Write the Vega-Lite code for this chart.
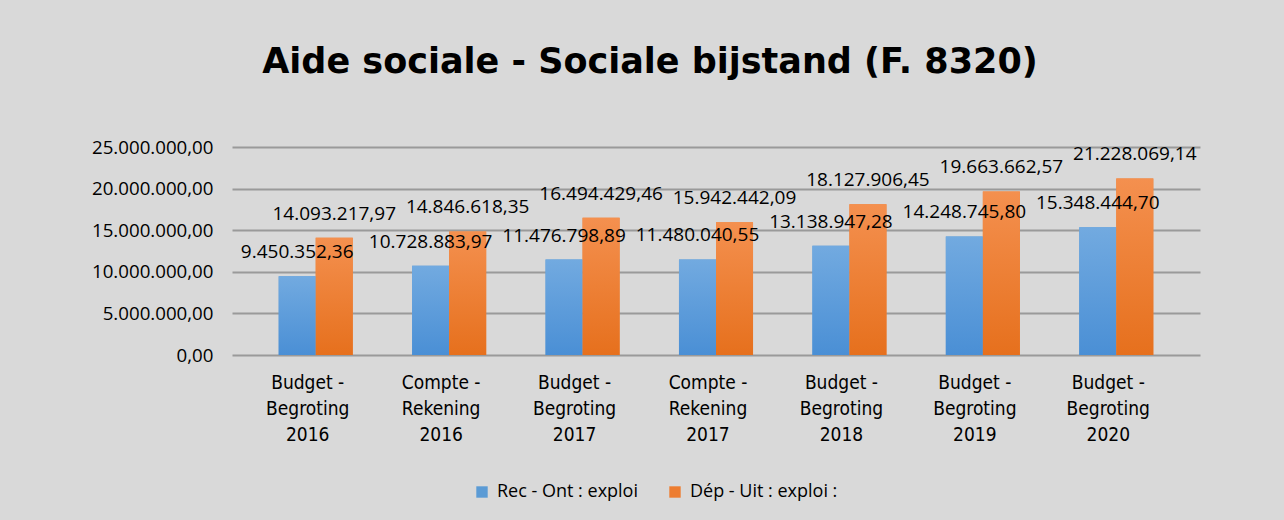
{
  "$schema": "https://vega.github.io/schema/vega-lite/v6.json",
  "autosize": {"type": "none"},
  "width": 968,
  "height": 208,
  "padding": {"left": 232, "top": 147, "right": 84, "bottom": 165},
  "background": "#d9d9d9",
  "config": {
    "locale": {"number": {"decimal": ",", "thousands": ".", "grouping": [3], "currency": ["", " €"]}},
    "view": {"stroke": null},
    "font": "Open Sans"
  },
  "title": {
    "text": "Aide sociale - Sociale bijstand (F. 8320)",
    "font": "DejaVu Sans",
    "fontSize": 35,
    "fontWeight": "bold",
    "color": "#000000",
    "anchor": "middle",
    "dx": -66,
    "offset": 30,
    "baseline": "alphabetic"
  },
  "data": {
    "values": [
      {"periode": "Budget - Begroting 2016", "serie": "Rec - Ont : exploi", "montant": 9450352.36},
      {"periode": "Budget - Begroting 2016", "serie": "Dép - Uit : exploi :", "montant": 14093217.97},
      {"periode": "Compte - Rekening 2016", "serie": "Rec - Ont : exploi", "montant": 10728883.97},
      {"periode": "Compte - Rekening 2016", "serie": "Dép - Uit : exploi :", "montant": 14846618.35},
      {"periode": "Budget - Begroting 2017", "serie": "Rec - Ont : exploi", "montant": 11476798.89},
      {"periode": "Budget - Begroting 2017", "serie": "Dép - Uit : exploi :", "montant": 16494429.46},
      {"periode": "Compte - Rekening 2017", "serie": "Rec - Ont : exploi", "montant": 11480040.55},
      {"periode": "Compte - Rekening 2017", "serie": "Dép - Uit : exploi :", "montant": 15942442.09},
      {"periode": "Budget - Begroting 2018", "serie": "Rec - Ont : exploi", "montant": 13138947.28},
      {"periode": "Budget - Begroting 2018", "serie": "Dép - Uit : exploi :", "montant": 18127906.45},
      {"periode": "Budget - Begroting 2019", "serie": "Rec - Ont : exploi", "montant": 14248745.80},
      {"periode": "Budget - Begroting 2019", "serie": "Dép - Uit : exploi :", "montant": 19663662.57},
      {"periode": "Budget - Begroting 2020", "serie": "Rec - Ont : exploi", "montant": 15348444.70},
      {"periode": "Budget - Begroting 2020", "serie": "Dép - Uit : exploi :", "montant": 21228069.14}
    ]
  },
  "encoding": {
    "x": {
      "field": "periode",
      "type": "nominal",
      "sort": null,
      "scale": {"paddingInner": 0.445, "paddingOuter": 0.35},
      "axis": {
        "title": null,
        "labelAngle": 0,
        "labelExpr": "[substring(datum.label, 0, 8), substring(datum.label, 9, length(datum.label) - 5), substring(datum.label, length(datum.label) - 4)]",
        "labelFont": "'DejaVu Sans Condensed', Lato, sans-serif",
        "labelFontSize": 19,
        "labelLineHeight": 26,
        "labelPadding": 18,
        "labelOffset": -8,
        "labelColor": "#000000",
        "ticks": false,
        "domain": false,
        "grid": false
      }
    },
    "xOffset": {
      "field": "serie",
      "type": "nominal",
      "sort": ["Rec - Ont : exploi", "Dép - Uit : exploi :"],
      "scale": {"paddingInner": 0}
    },
    "y": {
      "field": "montant",
      "type": "quantitative",
      "scale": {"domain": [0, 25000000]},
      "axis": {
        "title": null,
        "format": ",.2f",
        "values": [0, 5000000, 10000000, 15000000, 20000000, 25000000],
        "labelFont": "Open Sans",
        "labelFontSize": 18.7,
        "labelColor": "#000000",
        "labelPadding": 19,
        "ticks": false,
        "domain": false,
        "gridColor": "#9a9a9a",
        "gridWidth": 2
      }
    }
  },
  "layer": [
    {
      "mark": {"type": "bar"},
      "encoding": {
        "color": {
          "field": "serie",
          "type": "nominal",
          "sort": ["Rec - Ont : exploi", "Dép - Uit : exploi :"],
          "scale": {
            "domain": ["Rec - Ont : exploi", "Dép - Uit : exploi :"],
            "range": ["#5b9bd5", "#ed7d31"]
          },
          "legend": {
            "orient": "none",
            "legendX": 241,
            "legendY": 336,
            "direction": "horizontal",
            "title": null,
            "symbolType": "square",
            "symbolSize": 130,
            "symbolStrokeWidth": 0,
            "labelFont": "Open Sans",
            "labelFontSize": 18,
            "labelColor": "#000000",
            "labelOffset": 6,
            "columnPadding": 28
          }
        }
      }
    },
    {
      "transform": [{"filter": "datum.serie === 'Rec - Ont : exploi'"}],
      "mark": {
        "type": "bar",
        "color": {"gradient": "linear", "x1": 0, "y1": 0, "x2": 0, "y2": 1, "stops": [{"offset": 0, "color": "#72aae0"}, {"offset": 1, "color": "#4a8fd5"}]}
      },
      "encoding": {}
    },
    {
      "transform": [{"filter": "datum.serie === 'Dép - Uit : exploi :'"}],
      "mark": {
        "type": "bar",
        "color": {"gradient": "linear", "x1": 0, "y1": 0, "x2": 0, "y2": 1, "stops": [{"offset": 0, "color": "#f4904f"}, {"offset": 1, "color": "#e6701d"}]}
      },
      "encoding": {}
    },
    {
      "mark": {"type": "text", "baseline": "bottom", "dy": -14, "fontSize": 19, "font": "Open Sans", "color": "#000000"},
      "encoding": {
        "text": {"field": "montant", "type": "quantitative", "format": ",.2f"}
      }
    }
  ]
}
